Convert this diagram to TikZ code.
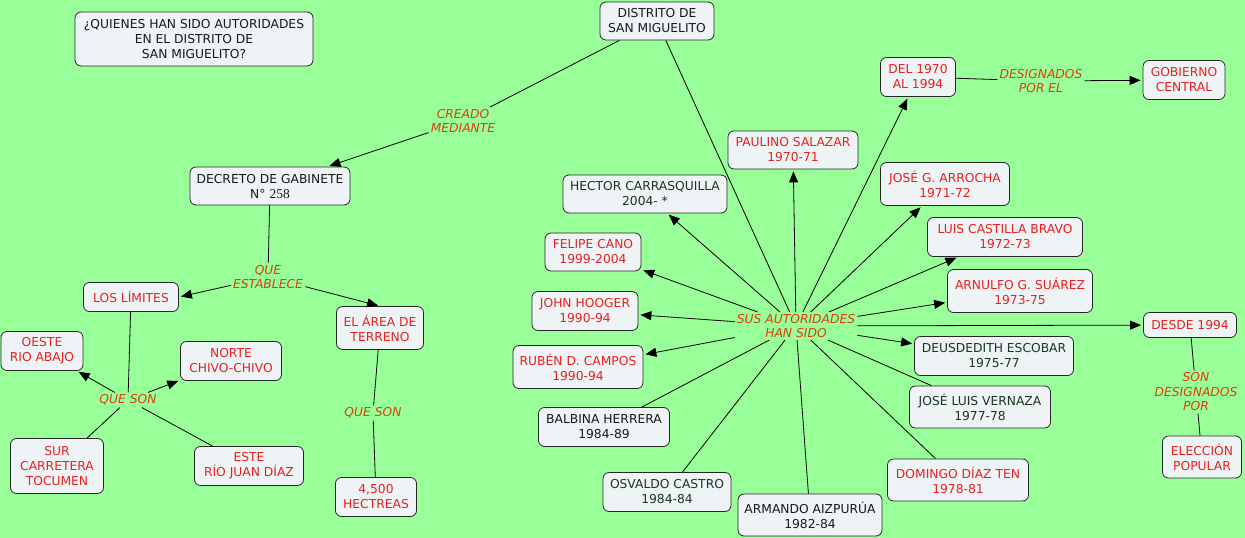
\documentclass[tikz,border=0pt]{standalone}
\usepackage{fontspec}
\setmainfont{DejaVu Sans}
\newfontfamily\serifn{Liberation Serif}
\usetikzlibrary{arrows.meta}
\definecolor{bg}{RGB}{153,255,153}
\definecolor{boxfill}{RGB}{238,244,245}
\definecolor{nred}{RGB}{232,32,32}
\definecolor{ndark}{RGB}{28,52,34}
\definecolor{lred}{RGB}{218,64,10}
\begin{document}
\begin{tikzpicture}[x=1pt,y=-1pt,
 box/.style={draw=black!85,fill=boxfill,rounded corners=6pt,align=center,font=\fontsize{12.3}{15}\selectfont,inner sep=0pt,line width=0.8pt},
 redbox/.style={box,text=nred},
 darkbox/.style={box,text=ndark},
 blackbox/.style={box,text=black!90},
 sz/.style 2 args={minimum width=#1,minimum height=#2},
 lab/.style={align=center,font=\fontsize{12.3}{14.5}\selectfont\itshape,text=lred,inner sep=2pt},
 arr/.style={-{Triangle[length=11pt,width=9pt]},line width=0.8pt,shorten >=2pt},
 ln/.style={line width=0.8pt}]
\useasboundingbox (0,0) rectangle (1245,538);
\fill[bg] (0,0) rectangle (1245,538);

% nodes
\node[blackbox,sz={238}{54}] (question) at (194,39) {¿QUIENES HAN SIDO AUTORIDADES\\EN EL DISTRITO DE\\SAN MIGUELITO?};
\node[blackbox,sz={114}{38}] (distrito) at (657,21) {DISTRITO DE\\SAN MIGUELITO};
\node[blackbox,sz={160}{38}] (decreto) at (270,186) {DECRETO DE GABINETE\\N°~{\serifn\fontsize{13.5}{15}\selectfont 258}};
\node[redbox,sz={95}{29}] (limites) at (131,297) {LOS LÍMITES};
\node[redbox,sz={87}{43}] (elarea) at (380,328) {EL ÁREA DE\\TERRENO};
\node[redbox,sz={82}{39}] (oeste) at (42,351) {OESTE\\RIO ABAJO};
\node[redbox,sz={101}{39}] (norte) at (231,361) {NORTE\\CHIVO-CHIVO};
\node[redbox,sz={93}{55}] (sur) at (57,466) {SUR\\CARRETERA\\TOCUMEN};
\node[redbox,sz={109}{39}] (este) at (249,466) {ESTE\\RÍO JUAN DÍAZ};
\node[redbox,sz={81}{39}] (hect) at (376,497) {4,500\\HECTREAS};

\node[redbox,sz={130}{38}] (paulino) at (793,150) {PAULINO SALAZAR\\1970-71};
\node[darkbox,sz={164}{38}] (hector) at (645,194) {HECTOR CARRASQUILLA\\2004- *};
\node[redbox,sz={75}{39}] (del) at (918,77) {DEL 1970\\AL 1994};
\node[redbox,sz={82}{39}] (gob) at (1184,80) {GOBIERNO\\CENTRAL};
\node[redbox,sz={129}{43}] (arrocha) at (945,184) {JOSÉ G. ARROCHA\\1971-72};
\node[redbox,sz={155}{39}] (castilla) at (1005,237) {LUIS CASTILLA BRAVO\\1972-73};
\node[redbox,sz={145}{43}] (arnulfo) at (1020,291) {ARNULFO G. SUÁREZ\\1973-75};
\node[redbox,sz={93}{25}] (desde) at (1190,325) {DESDE 1994};
\node[darkbox,sz={159}{39}] (deus) at (994,356) {DEUSDEDITH ESCOBAR\\1975-77};
\node[darkbox,sz={141}{42}] (vernaza) at (980,407) {JOSÉ LUIS VERNAZA\\1977-78};
\node[redbox,sz={141}{42}] (domingo) at (958,480) {DOMINGO DÍAZ TEN\\1978-81};
\node[redbox,sz={79}{42}] (eleccion) at (1202,457) {ELECCIÓN\\POPULAR};
\node[redbox,sz={96}{38}] (felipe) at (593,252) {FELIPE CANO\\1999-2004};
\node[redbox,sz={106}{39}] (john) at (585,311) {JOHN HOOGER\\1990-94};
\node[redbox,sz={130}{43}] (ruben) at (578,367) {RUBÉN D. CAMPOS\\1990-94};
\node[blackbox,sz={131}{39}] (balbina) at (604,427) {BALBINA HERRERA\\1984-89};
\node[darkbox,sz={128}{39}] (osvaldo) at (667,492) {OSVALDO CASTRO\\1984-84};
\node[blackbox,sz={144}{42}] (armando) at (810,515) {ARMANDO AIZPURÚA\\1982-84};

% labels
\node[lab] (creado) at (463,121) {CREADO\\MEDIANTE};
\node[lab] (estab) at (268,277) {QUE\\ESTABLECE};
\node[lab] (queson1) at (128,400) {QUE SON};
\node[lab] (queson2) at (373,413) {QUE SON};
\node[lab] (sus) at (796,326) {SUS AUTORIDADES\\HAN SIDO};
\node[lab] (desig) at (1041,81) {DESIGNADOS\\POR EL};
\node[lab] (sondes) at (1196,392) {SON\\DESIGNADOS\\POR};

% connectors left
\draw[ln] (distrito) -- (creado);
\draw[arr] (creado) -- (decreto);
\draw[ln] (decreto) -- (estab);
\draw[arr] (estab) -- (limites.east);
\draw[arr] (estab) -- (elarea.north);
\draw[ln] (limites) -- (queson1);
\draw[arr] (queson1) -- (oeste);
\draw[arr] (queson1) -- (norte);
\draw[ln] (queson1) -- (sur);
\draw[ln] (queson1) -- (este);
\draw[ln] (elarea) -- (queson2);
\draw[ln] (queson2) -- (hect);

% connectors right
\draw[ln] (distrito) -- (sus);
\draw[arr] (sus) -- (paulino);
\draw[arr] (sus) -- (hector);
\draw[arr] (sus) -- (del);
\draw[arr] (sus) -- (arrocha);
\draw[arr] (sus) -- (castilla);
\draw[arr] (sus) -- (arnulfo);
\draw[arr] (sus) -- (desde);
\draw[arr] (sus) -- (deus);
\draw[ln] (sus) -- (vernaza);
\draw[ln] (sus) -- (domingo);
\draw[ln] (sus) -- (armando);
\draw[ln] (sus) -- (osvaldo);
\draw[ln] (sus) -- (balbina);
\draw[arr] (sus) -- (felipe);
\draw[arr] (sus) -- (john);
\draw[arr] (sus) -- (ruben);
\draw[ln] (del) -- (desig);
\draw[arr] (desig) -- (gob);
\draw[ln] (desde) -- (sondes);
\draw[ln] (sondes) -- (eleccion);
\end{tikzpicture}
\end{document}
